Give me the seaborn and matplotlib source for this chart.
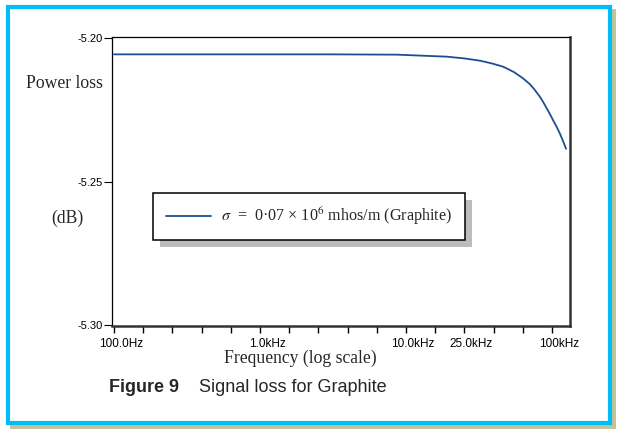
"""
Signal loss for Graphite: power loss (dB) vs frequency, log scale.
"""

import matplotlib
from matplotlib import pyplot as plt
from matplotlib.patches import Rectangle
from matplotlib.transforms import ScaledTranslation, IdentityTransform
import seaborn as sns
import pandas as pd

matplotlib.use('Agg')

# Datos
freq_hz = [100, 1000, 3013, 8630, 19000, 25000, 32100, 39000, 46300, 55000,
           63500, 70600, 76000, 82700, 87000, 92000, 97000, 102100, 108000,
           113500, 119000, 124800]
loss_db = [-5.2057, -5.2057, -5.2057, -5.2058, -5.2065, -5.2071, -5.2079,
           -5.2089, -5.2100, -5.2119, -5.2141, -5.2161, -5.2180, -5.2205,
           -5.2223, -5.2245, -5.2266, -5.2288, -5.2311, -5.2334, -5.2359,
           -5.2386]

x_ticks = [100, 158, 251, 398, 631, 1000, 1585, 2512, 3981, 6310,
           10000, 15849, 25119, 39811, 63096, 100000]
x_tick_labels = ['100.0Hz', '', '', '', '', '1.0kHz', '', '', '', '',
                 '10.0kHz', '', '25.0kHz', '', '', '100kHz']
y_ticks = [-5.20, -5.25, -5.30]
y_tick_labels = ['-5.20', '-5.25', '-5.30']

legend_label = r'$\sigma$  =  0·07 × 10$^{6}$ mhos/m (Graphite)'

df = pd.DataFrame({'freq': freq_hz, 'loss': loss_db})

sns.set_style('white')
plt.rcParams['font.family'] = ['Liberation Sans', 'DejaVu Sans']
plt.rcParams['mathtext.fontset'] = 'stix'

W, H = 618, 432
fig = plt.figure(figsize=(W / 100, H / 100), dpi=100)
fig.patch.set_facecolor('white')

# Marco exterior con sombra
fig.patches.append(Rectangle((10 / W, 1 - 429 / H), 606 / W, 420 / H,
                             transform=fig.transFigure, facecolor='#c4c296',
                             edgecolor='none', zorder=-3))
fig.patches.append(Rectangle((8 / W, 1 - 423 / H), 602 / W, 416 / H,
                             transform=fig.transFigure, facecolor='white',
                             edgecolor='#00bef5', linewidth=3.0, zorder=-2))

ax = fig.add_axes([112 / W, 1 - 326 / H, 457.5 / W, 289 / H])
ax.set_xscale('log')
sns.lineplot(x='freq', y='loss', data=df, ax=ax, color='#1c4f8e',
             linewidth=1.3, label=legend_label)

ax.set_xlim(96.9, 131800)
ax.set_ylim(-5.30035, -5.19965)

ax.xaxis.set_minor_locator(matplotlib.ticker.NullLocator())
ax.set_xticks(x_ticks)
ax.set_xticklabels(x_tick_labels, fontsize=8.5)
ax.set_yticks(y_ticks)
ax.set_yticklabels(y_tick_labels, fontsize=8)
ax.tick_params(axis='x', direction='out', length=5, width=1.0, pad=3.5,
               bottom=True, colors='black')
ax.tick_params(axis='y', direction='out', length=6, width=0.8, pad=0.8,
               left=True, colors='black')
for lab in ax.get_xticklabels():
    lab.set_transform(lab.get_transform() + ScaledTranslation(0.07, 0, fig.dpi_scale_trans))

ax.set_xlabel('')
ax.set_ylabel('')

for side in ['top', 'left']:
    ax.spines[side].set_linewidth(0.9)
    ax.spines[side].set_color('black')
for side in ['right', 'bottom']:
    ax.spines[side].set_linewidth(1.8)
    ax.spines[side].set_color('#333333')

# Leyenda con sombra gris desplazada
leg = ax.legend(loc='center', bbox_to_anchor=(309 / W, 1 - 216.5 / H),
                bbox_transform=fig.transFigure, frameon=True, fancybox=False,
                framealpha=1, edgecolor='black', handlelength=2.8,
                handletextpad=0.65, borderpad=0.8,
                prop={'family': 'Liberation Serif', 'size': 11.6})
leg.get_frame().set_linewidth(1.1)

fig.canvas.draw()
bb = leg.get_window_extent()
ax.add_patch(Rectangle((bb.x0 + 7, bb.y0 - 7), bb.width, bb.height,
                       transform=IdentityTransform(), facecolor='#bcbcbc',
                       edgecolor='none', zorder=4, clip_on=False))

# Textos de ejes
serif = {'family': 'Liberation Serif', 'size': 12.7}
fig.text(64.5 / W, 1 - 83 / H, 'Power loss', ha='center', va='center', **serif)
fig.text(67 / W, 1 - 218 / H, '(dB)', ha='center', va='center', **serif)
fig.text(300 / W, 1 - 358 / H, 'Frequency (log scale)', ha='center',
         va='center', **serif)

fig.text(109 / W, 1 - 388 / H, 'Figure 9', ha='left', va='center',
         fontsize=13, fontweight='bold', family='Liberation Sans')
fig.text(199 / W, 1 - 388 / H, 'Signal loss for Graphite', ha='left',
         va='center', fontsize=13, family='Liberation Sans')

fig.savefig('out.png', dpi=100)
plt.close(fig)
